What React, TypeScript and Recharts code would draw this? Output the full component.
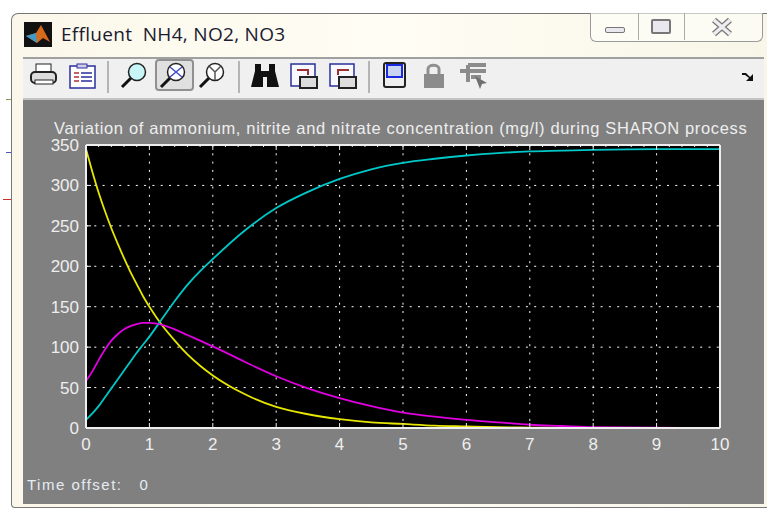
import { LineChart, Line, XAxis, YAxis, CartesianGrid } from 'recharts';

const times = [0, 0.1, 0.2, 0.3, 0.4, 0.5, 0.6, 0.7, 0.8, 0.9, 1, 1.2, 1.4, 1.6, 1.8, 2, 2.5, 3, 3.5, 4, 4.5, 5, 5.5, 6, 6.5, 7, 7.5, 8, 9, 10];
const nh4 = [345, 317, 291, 268, 247, 228, 210, 193, 178, 163, 150, 127, 108, 91, 77, 65, 42, 26, 17, 11, 7, 5, 3, 2, 1, 0.5, 0.3, 0, 0, 0];
const no2 = [58, 70, 84, 97, 108, 116, 122, 126, 128.5, 130, 130, 127.5, 122, 115, 108, 101, 82, 64, 49, 37, 27, 19, 14, 10, 7, 4, 2.5, 1, 0.3, 0];
const no3 = [10, 18, 27, 38, 49, 60, 71, 82, 93, 103, 113, 135, 157, 177, 194, 209, 244, 272, 292, 308, 320, 328, 333, 337, 340, 342, 343, 344, 345, 345];

const xTicks = [0, 1, 2, 3, 4, 5, 6, 7, 8, 9, 10];
const yTicks = [0, 50, 100, 150, 200, 250, 300, 350];
const topTicks = [0, 0.2, 0.4, 0.6, 0.8, 1, 1.2, 1.4, 1.6, 1.8, 2, 2.2, 2.4, 2.6, 2.8, 3, 3.2, 3.4, 3.6, 3.8, 4, 4.2, 4.4, 4.6, 4.8, 5, 5.2, 5.4, 5.6, 5.8, 6, 6.2, 6.4, 6.6, 6.8, 7, 7.2, 7.4, 7.6, 7.8, 8, 8.2, 8.4, 8.6, 8.8, 9, 9.2, 9.4, 9.6, 9.8, 10];

const data = times.map((t, i) => ({ t, nh4: nh4[i], no2: no2[i], no3: no3[i] }));

const FONT = '"Liberation Sans", Arial, sans-serif';
const LIGHT = '#eeeeee';

function BottomTick({ x, y, payload }: any) {
  return (
    <g>
      <line x1={x} x2={x} y1={y} y2={y - 5} stroke={LIGHT} />
      <text x={x} y={y + 22} textAnchor="middle" fill={LIGHT} fontSize={17} fontFamily={FONT}>{payload.value}</text>
    </g>
  );
}

function LeftTick({ x, y, payload }: any) {
  return (
    <g>
      <line x1={x} x2={x + 5} y1={y} y2={y} stroke={LIGHT} />
      <text x={x - 7} y={y + 6} textAnchor="end" fill={LIGHT} fontSize={17} fontFamily={FONT}>{payload.value}</text>
    </g>
  );
}

function RightTick({ x, y }: any) {
  return <line x1={x} x2={x - 5} y1={y} y2={y} stroke={LIGHT} />;
}

function TopTick({ x, y, payload }: any) {
  const major = Number.isInteger(payload.value);
  return <line x1={x} x2={x} y1={y} y2={y + (major ? 5 : 2)} stroke={LIGHT} />;
}

function Sep({ left }: { left: number }) {
  return <div style={{ position: 'absolute', left, top: 61, width: 2, height: 32, background: '#b4b4b4' }} />;
}

function Magnifier({ left, mark }: { left: number; mark?: 'plus' | 'y' }) {
  return (
    <svg style={{ position: 'absolute', left, top: 61 }} width={30} height={30}>
      <line x1={3} y1={26} x2={12} y2={17} stroke="#111" strokeWidth={3} />
      <circle cx={18} cy={11} r={8.5} fill={mark ? '#ffffff' : '#c8f6f6'} stroke="#222" strokeWidth={1.5} />
      {mark === 'plus' && <path d="M12 6L24 16M24 6L12 16" stroke="#3a50c0" strokeWidth={1.5} />}
      {mark === 'y' && <path d="M18 11L12 5M18 11L24 5M18 11L18 19" stroke="#555" strokeWidth={1.5} />}
    </svg>
  );
}

export default function App() {
  return (
    <div style={{ position: 'absolute', left: 0, top: 0, width: 767, height: 510, background: '#fff', overflow: 'hidden' }}>
      {/* desktop edges behind the window */}
      <div style={{ position: 'absolute', left: 6, top: 99, width: 6, height: 1, background: '#8a9a50' }} />
      <div style={{ position: 'absolute', left: 6, top: 152, width: 6, height: 1, background: '#5050c8' }} />
      <div style={{ position: 'absolute', left: 3, top: 199, width: 9, height: 1, background: '#c83030' }} />

      {/* window frame */}
      <div style={{ position: 'absolute', left: 11, top: 13, width: 756, height: 495, background: 'linear-gradient(90deg,#fbf7ea,#fffdf4 50%,#f8f6e8)', border: '1px solid #777', borderRight: 'none', borderRadius: '7px 0 0 4px', boxSizing: 'border-box' }} />

      {/* caption buttons */}
      <div style={{ position: 'absolute', left: 590, top: 13, width: 173, height: 29, border: '1px solid #9a9a9a', borderTop: 'none', borderRadius: '0 0 6px 6px', boxSizing: 'border-box', background: 'rgba(255,255,250,0.6)' }}>
        <div style={{ position: 'absolute', left: 47, top: 0, width: 1, height: 27, background: '#aaa' }} />
        <div style={{ position: 'absolute', left: 93, top: 0, width: 1, height: 27, background: '#aaa' }} />
        <div style={{ position: 'absolute', left: 14, top: 14, width: 20, height: 6, border: '1px solid #777', background: '#e8e8ee', boxSizing: 'border-box', borderRadius: 2 }} />
        <div style={{ position: 'absolute', left: 60, top: 6, width: 20, height: 15, border: '2px solid #777', background: '#e8e8ee', boxSizing: 'border-box', borderRadius: 2 }} />
        <svg style={{ position: 'absolute', left: 120, top: 4 }} width={22} height={20}>
          <path d="M3 3L19 17M19 3L3 17" stroke="#777" strokeWidth={6} />
          <path d="M3 3L19 17M19 3L3 17" stroke="#eeeef2" strokeWidth={3.5} />
        </svg>
      </div>

      {/* app icon and window title */}
      <svg style={{ position: 'absolute', left: 24, top: 22 }} width={28} height={25}>
        <rect width={28} height={25} fill="#111" />
        <path d="M2 14L12 11L17 3L26 20L19 16L13 21Z" fill="#d86a1c" />
        <path d="M2 14L12 11L13 21Z" fill="#3f9ac8" />
      </svg>
      <div style={{ position: 'absolute', left: 61, top: 24, fontFamily: '"Open Sans", sans-serif', fontSize: 19, letterSpacing: 0.3, lineHeight: '20px', color: '#1a1a30', whiteSpace: 'pre' }}>Effluent  NH4, NO2, NO3</div>

      {/* toolbar */}
      <div style={{ position: 'absolute', left: 23, top: 57, width: 741, height: 43, background: '#f0f0f0', borderTop: '2px solid #a0a0a0', borderBottom: '2px solid #c4c4c4', boxSizing: 'border-box' }} />
      <svg style={{ position: 'absolute', left: 29, top: 62 }} width={30} height={28}>
        <rect x={7} y={2} width={15} height={9} fill="#fff" stroke="#222" />
        <rect x={2} y={10} width={25} height={11} rx={4} fill="#ddd" stroke="#222" strokeWidth={2} />
        <rect x={6} y={18} width={18} height={4} fill="#fff" stroke="#222" />
      </svg>
      <svg style={{ position: 'absolute', left: 68, top: 62 }} width={30} height={28}>
        <rect x={2} y={4} width={25} height={22} fill="#fff" stroke="#2a2f9c" strokeWidth={1.5} />
        <rect x={9} y={2} width={10} height={4} fill="#d0d0e8" stroke="#2a2f9c" />
        <path d="M6 11H11M6 15H11M6 19H11" stroke="#b03030" strokeWidth={1.5} />
        <path d="M13 11H24M13 15H24M13 19H24" stroke="#2a2f9c" strokeWidth={1.5} />
      </svg>
      <Sep left={107} />
      <Magnifier left={119} />
      <div style={{ position: 'absolute', left: 155, top: 59, width: 39, height: 32, background: '#e0e0e0', border: '2px solid #909090', borderRadius: 4, boxSizing: 'border-box' }} />
      <Magnifier left={158} mark="plus" />
      <Magnifier left={197} mark="y" />
      <Sep left={238} />
      <svg style={{ position: 'absolute', left: 250, top: 61 }} width={30} height={30}>
        <path d="M5 3H11V10H19V3H25V10L29 26H17V16H13V26H1L5 10Z" fill="#111" />
      </svg>
      <svg style={{ position: 'absolute', left: 289, top: 62 }} width={30} height={28}>
        <rect x={2} y={2} width={24} height={22} fill="#f8f8ff" stroke="#2a2f9c" strokeWidth={1.5} />
        <path d="M8 8H19V13" fill="none" stroke="#a03030" strokeWidth={2} />
        <rect x={11} y={15} width={17} height={11} fill="#ddd" stroke="#222" strokeWidth={2} />
      </svg>
      <svg style={{ position: 'absolute', left: 328, top: 62 }} width={30} height={28}>
        <rect x={2} y={2} width={24} height={22} fill="#f8f8ff" stroke="#2a2f9c" strokeWidth={1.5} />
        <path d="M10 13V8H21" fill="none" stroke="#a03030" strokeWidth={2} />
        <rect x={11} y={15} width={17} height={11} fill="#ddd" stroke="#222" strokeWidth={2} />
      </svg>
      <Sep left={368} />
      <svg style={{ position: 'absolute', left: 383, top: 62 }} width={24} height={28}>
        <rect x={1} y={1} width={21} height={24} rx={2} fill="#eee" stroke="#222" strokeWidth={2} />
        <rect x={4} y={3} width={15} height={12} fill="#c8d4f0" stroke="#1a2ae0" strokeWidth={2} />
      </svg>
      <svg style={{ position: 'absolute', left: 422, top: 62 }} width={24} height={28}>
        <path d="M6 12V7C6 2 17 2 17 7V12" fill="none" stroke="#909090" strokeWidth={3} />
        <rect x={2} y={12} width={20} height={14} fill="#8c8c8c" />
      </svg>
      <svg style={{ position: 'absolute', left: 459, top: 62 }} width={30} height={28}>
        <path d="M1 9H12M9 3H27M12 9H27M12 15H22M9 3V20" stroke="#8c8c8c" strokeWidth={4} fill="none" />
        <path d="M16 14L28 21L23 22L21 27Z" fill="#707070" />
      </svg>
      <svg style={{ position: 'absolute', left: 741, top: 71 }} width={14} height={12}>
        <path d="M1 2H5L9 6L12 3V10H5L8 7L4 4H1Z" fill="#111" />
      </svg>

      {/* scope panel */}
      <div style={{ position: 'absolute', left: 23, top: 100, width: 741, height: 404, background: '#808080' }} />
      <div style={{ position: 'absolute', left: 54, top: 119, fontFamily: FONT, fontSize: 16.5, letterSpacing: 0.64, lineHeight: '18px', color: LIGHT, whiteSpace: 'pre' }}>Variation of ammonium, nitrite and nitrate concentration (mg/l) during SHARON process</div>
      <div style={{ position: 'absolute', left: 27, top: 476, fontFamily: FONT, fontSize: 15, letterSpacing: 1.5, lineHeight: '17px', color: '#e4ecf4', whiteSpace: 'pre' }}>Time offset:   0</div>

      <div style={{ position: 'absolute', left: 0, top: 0 }}>
        <LineChart width={767} height={510} data={data} margin={{ top: 144, right: 46, bottom: 52, left: 46 }}>
          <CartesianGrid fill="#000000" fillOpacity={1} stroke="#ffffff" strokeDasharray="2 6.3" />
          <XAxis dataKey="t" type="number" domain={[0, 10]} ticks={xTicks} height={30} interval={0} tickSize={0} tickMargin={0} axisLine={{ stroke: LIGHT, strokeWidth: 2 }} tickLine={false} tick={BottomTick} />
          <XAxis xAxisId="top" orientation="top" dataKey="t" type="number" domain={[0, 10]} ticks={topTicks} height={1} interval={0} tickSize={0} tickMargin={0} axisLine={{ stroke: LIGHT, strokeWidth: 2 }} tickLine={false} tick={TopTick} />
          <YAxis type="number" domain={[0, 350]} ticks={yTicks} width={40} interval={0} tickSize={0} tickMargin={0} axisLine={{ stroke: LIGHT, strokeWidth: 2 }} tickLine={false} tick={LeftTick} />
          <YAxis yAxisId="right" orientation="right" type="number" domain={[0, 350]} ticks={yTicks} width={1} interval={0} tickSize={0} tickMargin={0} axisLine={{ stroke: LIGHT, strokeWidth: 2 }} tickLine={false} tick={RightTick} />
          <Line dataKey="nh4" type="monotone" stroke="#e6e600" strokeWidth={1.8} dot={false} isAnimationActive={false} />
          <Line dataKey="no3" type="monotone" stroke="#00c8c8" strokeWidth={1.8} dot={false} isAnimationActive={false} />
          <Line dataKey="no2" type="monotone" stroke="#e000e0" strokeWidth={1.8} dot={false} isAnimationActive={false} />
        </LineChart>
      </div>
    </div>
  );
}
